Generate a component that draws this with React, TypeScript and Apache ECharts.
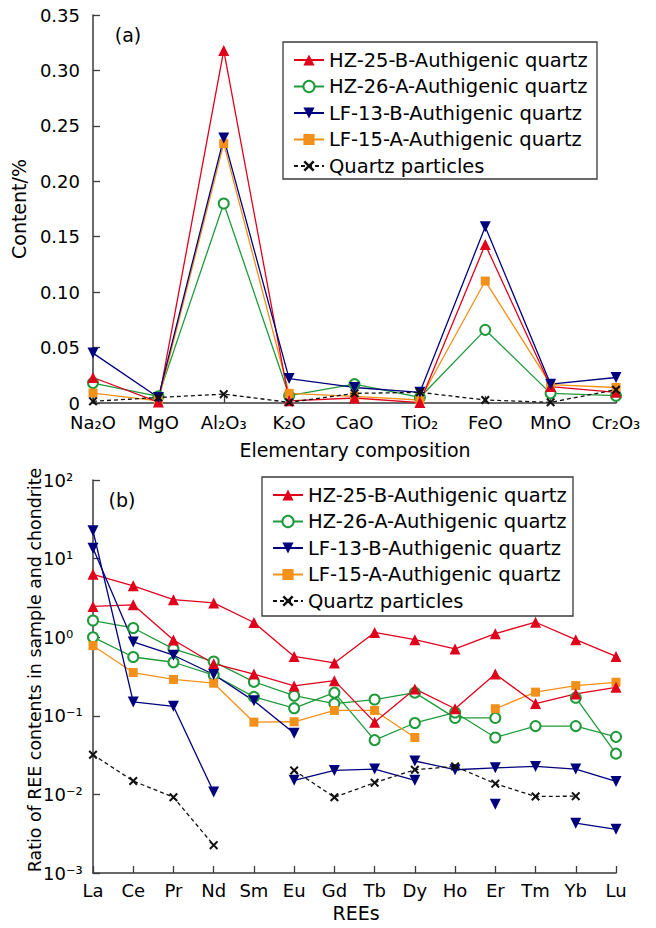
import React, { useEffect, useRef } from 'react';
import * as echarts from 'echarts';

// ---------- Panel (a): major oxides ----------
const oxides = ['Na₂O', 'MgO', 'Al₂O₃', 'K₂O', 'CaO', 'TiO₂', 'FeO', 'MnO', 'Cr₂O₃'];
const hz25bOx = [0.023, 0.0008, 0.318, 0.002, 0.0045, 0.0004, 0.143, 0.0148, 0.0096];
const hz26aOx = [0.018, 0.006, 0.18, 0.0066, 0.017, 0.005, 0.066, 0.0087, 0.0066];
const lf13bOx = [0.045, 0.005, 0.239, 0.022, 0.014, 0.0096, 0.159, 0.017, 0.023];
const lf15aOx = [0.009, 0.002, 0.234, 0.0087, 0.006, 0.0027, 0.11, 0.0166, 0.014];
const qpOx = [0.0015, 0.005, 0.008, 0.0006, 0.0087, 0.0096, 0.0027, 0.0006, 0.012];
const contentTicks = [0, 0.05, 0.1, 0.15, 0.2, 0.25, 0.3, 0.35];

// ---------- Panel (b): REE chondrite-normalised ----------
const rees = ['La', 'Ce', 'Pr', 'Nd', 'Sm', 'Eu', 'Gd', 'Tb', 'Dy', 'Ho', 'Er', 'Tm', 'Yb', 'Lu'];
const hz25bRee1 = [6.3, 4.5, 3.0, 2.73, 1.54, 0.57, 0.47, 1.15, 0.93, 0.71, 1.11, 1.55, 0.93, 0.57];
const hz25bRee2 = [2.46, 2.58, 0.92, 0.46, 0.34, 0.24, 0.28, 0.083, 0.22, 0.123, 0.34, 0.143, 0.19, 0.23];
const hz26aRee1 = [1.63, 1.31, 0.71, 0.49, 0.27, 0.18, 0.143, 0.161, 0.197, 0.094, 0.094, null, 0.17, 0.033];
const hz26aRee2 = [1.0, 0.56, 0.48, 0.33, 0.174, 0.125, 0.197, 0.049, 0.081, 0.11, 0.053, 0.074, 0.074, 0.054];
const lf13bRee1 = [22.6, 0.15, 0.132, 0.0107, null, 0.0151, 0.0202, 0.021, 0.0151, null, null, null, null, null];
const lf13bRee2 = [13.5, 0.87, 0.59, 0.335, 0.155, 0.06, null, null, null, null, null, null, null, null];
const lf13bRee3 = [null, null, null, null, null, null, null, null, 0.0266, 0.0206, 0.0218, 0.0227, 0.021, 0.0146];
const lf13bRee4 = [null, null, null, null, null, null, null, null, null, null, 0.0075, null, 0.0043, 0.0036];
const lf15aRee1 = [0.78, 0.355, 0.29, 0.26, 0.083, 0.084, 0.117, 0.117, 0.053, null, 0.123, 0.2, 0.242, 0.267];
const qpRee1 = [0.032, 0.0148, 0.0092, 0.00226, null, 0.0202, 0.0092, 0.0141, 0.0206, 0.0227, 0.0137, 0.0094, 0.0095, null];

const names = [
  'HZ-25-B-Authigenic quartz',
  'HZ-26-A-Authigenic quartz',
  'LF-13-B-Authigenic quartz',
  'LF-15-A-Authigenic quartz',
  'Quartz particles',
];

const RED = '#e0001b';
const GREEN = '#1f9a3a';
const NAVY = '#00007d';
const ORANGE = '#f39019';
const BLACK = '#111111';
const AXIS = '#3a3a3a';
const FONT = 'DejaVu Sans';
const CROSS = 'path://M1.6,0L5,3.4L8.4,0L10,1.6L6.6,5L10,8.4L8.4,10L5,6.6L1.6,10L0,8.4L3.4,5L0,1.6Z';

const looks: any[] = [
  { color: RED, symbol: 'triangle', symbolSize: 11, symbolRotate: 0, dash: 'solid' },
  { color: GREEN, symbol: 'emptyCircle', symbolSize: 10, symbolRotate: 0, dash: 'solid' },
  { color: NAVY, symbol: 'triangle', symbolSize: 11, symbolRotate: 180, dash: 'solid' },
  { color: ORANGE, symbol: 'rect', symbolSize: 9, symbolRotate: 0, dash: 'solid' },
  { color: BLACK, symbol: CROSS, symbolSize: 9, symbolRotate: 0, dash: [4, 3] },
];

function mk(idx: number, data: any[], axis: number) {
  const l = looks[idx];
  return {
    name: names[idx],
    type: 'line',
    xAxisIndex: axis,
    yAxisIndex: axis,
    data,
    symbol: l.symbol,
    symbolSize: l.symbolSize,
    symbolRotate: l.symbolRotate,
    showSymbol: true,
    showAllSymbol: true,
    connectNulls: false,
    z: idx === 4 ? 3 : 2,
    itemStyle: { color: l.color, borderColor: l.color, borderWidth: idx === 1 ? 1.3 : 0 },
    lineStyle: { color: l.color, width: 1.3, type: l.dash },
    emphasis: { disabled: true },
  };
}

const supMap: Record<string, string> = { '-': '⁻', '0': '⁰', '1': '¹', '2': '²', '3': '³' };
const expLabel = (v: number) => {
  const e = Math.round(Math.log10(v));
  return '10' + String(e).split('').map((c) => supMap[c] || c).join('');
};

const axisLine = { show: true, lineStyle: { color: AXIS, width: 1.5 } };
const axisTick = { show: true, inside: true, length: 7, lineStyle: { color: AXIS, width: 1.3 } };
const labelStyle = { color: '#000', fontFamily: FONT, fontSize: 18 };

const legendCommon = {
  orient: 'vertical',
  itemWidth: 30,
  itemHeight: 14,
  itemGap: 6.5,
  padding: 0,
  data: names,
  textStyle: { color: '#000', fontFamily: FONT, fontSize: 19.5 },
  selectedMode: false,
};

const titleText = (text: string, x: number, y: number, size: number, rot = 0) => ({
  type: 'text',
  x,
  y,
  rotation: rot,
  style: {
    text,
    fill: '#000',
    fontFamily: FONT,
    fontSize: size,
    textAlign: 'center',
    textVerticalAlign: 'middle',
    align: 'center',
    verticalAlign: 'middle',
  },
});

const option: any = {
  animation: false,
  backgroundColor: '#fff',
  grid: [
    { left: 93, top: 15, width: 523, height: 388 },
    { left: 93, top: 480, width: 523, height: 393 },
  ],
  xAxis: [
    {
      type: 'category',
      gridIndex: 0,
      data: oxides,
      boundaryGap: false,
      axisLine,
      axisTick: { ...axisTick, alignWithLabel: true },
      axisLabel: { ...labelStyle, margin: 10, interval: 0 },
      splitLine: { show: false },
    },
    {
      type: 'category',
      gridIndex: 1,
      data: rees,
      boundaryGap: false,
      axisLine,
      axisTick: { ...axisTick, alignWithLabel: true },
      axisLabel: { ...labelStyle, margin: 8, interval: 0 },
      splitLine: { show: false },
    },
  ],
  yAxis: [
    {
      type: 'value',
      gridIndex: 0,
      min: contentTicks[0],
      max: contentTicks[contentTicks.length - 1],
      interval: 0.05,
      axisLine,
      axisTick,
      axisLabel: {
        ...labelStyle,
        margin: 13,
        formatter: (v: number) => (Math.abs(v) < 1e-9 ? '0' : v.toFixed(2)),
      },
      splitLine: { show: false },
    },
    {
      type: 'log',
      gridIndex: 1,
      logBase: 10,
      min: 0.001,
      max: 100,
      axisLine,
      axisTick,
      minorTick: { show: false },
      axisLabel: { ...labelStyle, margin: 50, align: 'left', formatter: expLabel },
      splitLine: { show: false },
    },
  ],
  legend: [
    { ...legendCommon, left: 293, top: 50 },
    { ...legendCommon, left: 272, top: 485 },
  ],
  graphic: [
    {
      type: 'rect',
      shape: { x: 283, y: 42, width: 314, height: 137 },
      style: { fill: 'none', stroke: AXIS, lineWidth: 1.3 },
      z: 10,
    },
    {
      type: 'rect',
      shape: { x: 262, y: 477, width: 311, height: 139 },
      style: { fill: 'none', stroke: AXIS, lineWidth: 1.3 },
      z: 10,
    },
    titleText('(a)', 128, 35, 19),
    titleText('(b)', 122, 500, 19),
    titleText('Content/%', 19, 209, 19, Math.PI / 2),
    titleText('Ratio of REE contents in sample and chondrite', 35, 670, 17.4, Math.PI / 2),
    titleText('Elementary composition', 355, 450, 19),
    titleText('REEs', 356, 913, 19),
  ],
  series: [
    mk(4, qpOx, 0),
    mk(1, hz26aOx, 0),
    mk(3, lf15aOx, 0),
    mk(0, hz25bOx, 0),
    mk(2, lf13bOx, 0),
    mk(4, qpRee1, 1),
    mk(1, hz26aRee1, 1),
    mk(1, hz26aRee2, 1),
    mk(3, lf15aRee1, 1),
    mk(0, hz25bRee1, 1),
    mk(0, hz25bRee2, 1),
    mk(2, lf13bRee1, 1),
    mk(2, lf13bRee2, 1),
    mk(2, lf13bRee3, 1),
    mk(2, lf13bRee4, 1),
  ],
};

export default function App() {
  const ref = useRef<HTMLDivElement>(null);
  useEffect(() => {
    const chart = echarts.init(ref.current as HTMLDivElement, null, { renderer: 'svg' });
    chart.setOption(option);
    return () => chart.dispose();
  }, []);
  return (
    <div
      ref={ref}
      style={{ position: 'absolute', left: 0, top: 0, width: 656, height: 928, background: '#fff' }}
    />
  );
}
